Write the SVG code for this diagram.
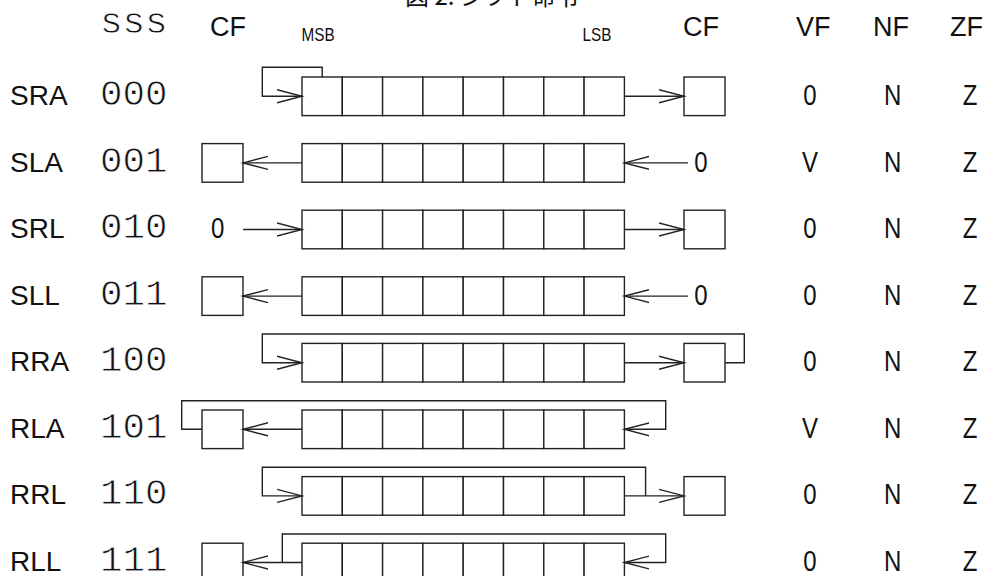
<svg xmlns="http://www.w3.org/2000/svg" xmlns:xlink="http://www.w3.org/1999/xlink" width="989" height="576" viewBox="0 0 989 576">
<style>
.box{fill:#fff;stroke:#222;stroke-width:1.4}
.ln{fill:none;stroke:#222;stroke-width:1.4}
.lbl{font-family:"Liberation Sans",Arial,sans-serif;font-size:28px;fill:#111}
.code{font-family:"Liberation Mono","Courier New",monospace;font-size:37.5px;fill:#111;stroke:#fff;stroke-width:0.8px}
.hdr{font-family:"Liberation Sans",Arial,sans-serif;font-size:27px;fill:#111}
.nar{font-family:"Liberation Sans",Arial,sans-serif;fill:#111}
.flag{font-size:30px;text-anchor:middle}
.title{font-family:"Noto Sans CJK JP",sans-serif;font-size:24px;fill:#111}
</style>
<defs>
<marker id="arr" markerUnits="userSpaceOnUse" viewBox="0 0 30 16" markerWidth="30" markerHeight="16" refX="25" refY="8" orient="auto">
<path d="M0 1.5 L25 8 L0 14.5" fill="none" stroke="#222" stroke-width="1.4"/>
</marker>
<g id="reg">
<rect class="box" x="0" y="0" width="40.3" height="38.6"/>
<rect class="box" x="40.3" y="0" width="40.3" height="38.6"/>
<rect class="box" x="80.6" y="0" width="40.3" height="38.6"/>
<rect class="box" x="120.9" y="0" width="40.3" height="38.6"/>
<rect class="box" x="161.2" y="0" width="40.3" height="38.6"/>
<rect class="box" x="201.5" y="0" width="40.3" height="38.6"/>
<rect class="box" x="241.8" y="0" width="40.3" height="38.6"/>
<rect class="box" x="282.1" y="0" width="40.3" height="38.6"/>
</g>
<rect id="cf" class="box" x="0" y="0" width="41" height="38.6"/>
</defs>
<rect width="989" height="576" fill="#fff"/>

<g id="title">
<text class="title" x="405" y="5">図 2. シフト命令</text>
</g>

<g id="header">
<text class="code" x="100" y="33.3">sss</text>
<text class="hdr" x="210" y="36">CF</text>
<text class="nar" font-size="18" transform="translate(301.5,40.7) scale(0.85,1)">MSB</text>
<text class="nar" font-size="18" transform="translate(582.5,40.7) scale(0.85,1)">LSB</text>
<text class="hdr" x="683" y="36">CF</text>
<text class="hdr" x="796" y="36">VF</text>
<text class="hdr" x="873" y="36">NF</text>
<text class="hdr" x="950" y="36">ZF</text>
</g>

<g id="row-sra">
<text class="lbl" x="10" y="104.5">SRA</text>
<text class="code" x="100" y="104.5">000</text>
<use xlink:href="#reg" x="302" y="77"/>
<use xlink:href="#cf" x="684" y="77"/>
<text class="nar flag" transform="translate(810,104.5) scale(0.8,1)">0</text>
<text class="nar flag" transform="translate(892.7,104.5) scale(0.8,1)">N</text>
<text class="nar flag" transform="translate(970,104.5) scale(0.8,1)">Z</text>
</g>

<g id="row-sla">
<text class="lbl" x="10" y="171.5">SLA</text>
<text class="code" x="100" y="171.5">001</text>
<use xlink:href="#cf" x="202" y="143.6"/>
<use xlink:href="#reg" x="302" y="143.6"/>
<text class="nar flag" transform="translate(701,171.5) scale(0.8,1)">0</text>
<text class="nar flag" transform="translate(810,171.5) scale(0.8,1)">V</text>
<text class="nar flag" transform="translate(892.7,171.5) scale(0.8,1)">N</text>
<text class="nar flag" transform="translate(970,171.5) scale(0.8,1)">Z</text>
</g>

<g id="row-srl">
<text class="lbl" x="10" y="238">SRL</text>
<text class="code" x="100" y="238">010</text>
<text class="nar flag" transform="translate(217.6,238) scale(0.8,1)">0</text>
<use xlink:href="#reg" x="302" y="210.2"/>
<use xlink:href="#cf" x="684" y="210.2"/>
<text class="nar flag" transform="translate(810,238) scale(0.8,1)">0</text>
<text class="nar flag" transform="translate(892.7,238) scale(0.8,1)">N</text>
<text class="nar flag" transform="translate(970,238) scale(0.8,1)">Z</text>
</g>

<g id="row-sll">
<text class="lbl" x="10" y="304.6">SLL</text>
<text class="code" x="100" y="304.6">011</text>
<use xlink:href="#cf" x="202" y="276.8"/>
<use xlink:href="#reg" x="302" y="276.8"/>
<text class="nar flag" transform="translate(701,304.6) scale(0.8,1)">0</text>
<text class="nar flag" transform="translate(810,304.6) scale(0.8,1)">0</text>
<text class="nar flag" transform="translate(892.7,304.6) scale(0.8,1)">N</text>
<text class="nar flag" transform="translate(970,304.6) scale(0.8,1)">Z</text>
</g>

<g id="row-rra">
<text class="lbl" x="10" y="371.2">RRA</text>
<text class="code" x="100" y="371.2">100</text>
<use xlink:href="#reg" x="302" y="343.4"/>
<use xlink:href="#cf" x="684" y="343.4"/>
<text class="nar flag" transform="translate(810,371.2) scale(0.8,1)">0</text>
<text class="nar flag" transform="translate(892.7,371.2) scale(0.8,1)">N</text>
<text class="nar flag" transform="translate(970,371.2) scale(0.8,1)">Z</text>
</g>

<g id="row-rla">
<text class="lbl" x="10" y="437.8">RLA</text>
<text class="code" x="100" y="437.8">101</text>
<use xlink:href="#cf" x="202" y="410"/>
<use xlink:href="#reg" x="302" y="410"/>
<text class="nar flag" transform="translate(810,437.8) scale(0.8,1)">V</text>
<text class="nar flag" transform="translate(892.7,437.8) scale(0.8,1)">N</text>
<text class="nar flag" transform="translate(970,437.8) scale(0.8,1)">Z</text>
</g>

<g id="row-rrl">
<text class="lbl" x="10" y="504.4">RRL</text>
<text class="code" x="100" y="504.4">110</text>
<use xlink:href="#reg" x="302" y="476.6"/>
<use xlink:href="#cf" x="684" y="476.6"/>
<text class="nar flag" transform="translate(810,504.4) scale(0.8,1)">0</text>
<text class="nar flag" transform="translate(892.7,504.4) scale(0.8,1)">N</text>
<text class="nar flag" transform="translate(970,504.4) scale(0.8,1)">Z</text>
</g>

<g id="row-rll">
<text class="lbl" x="10" y="570.5">RLL</text>
<text class="code" x="100" y="570.5">111</text>
<use xlink:href="#cf" x="202" y="543.2"/>
<use xlink:href="#reg" x="302" y="543.2"/>
<text class="nar flag" transform="translate(810,570.5) scale(0.8,1)">0</text>
<text class="nar flag" transform="translate(892.7,570.5) scale(0.8,1)">N</text>
<text class="nar flag" transform="translate(970,570.5) scale(0.8,1)">Z</text>
</g>

<g id="connectors">
<path class="ln" d="M322.2 77 V67.3 H262.3 V96.3 H302" marker-end="url(#arr)"/>
<path class="ln" d="M624.4 96.3 H684" marker-end="url(#arr)"/>
<path class="ln" d="M302 162.9 H243" marker-end="url(#arr)"/>
<path class="ln" d="M688 162.9 H624.4" marker-end="url(#arr)"/>
<path class="ln" d="M243 229.5 H302" marker-end="url(#arr)"/>
<path class="ln" d="M624.4 229.5 H684" marker-end="url(#arr)"/>
<path class="ln" d="M302 296.1 H243" marker-end="url(#arr)"/>
<path class="ln" d="M688 296.1 H624.4" marker-end="url(#arr)"/>
<path class="ln" d="M725 362.7 H744.3 V334 H262.3 V362.7 H302" marker-end="url(#arr)"/>
<path class="ln" d="M624.4 362.7 H684" marker-end="url(#arr)"/>
<path class="ln" d="M202 429.3 H181.7 V400.7 H665.7 V429.3 H624.4" marker-end="url(#arr)"/>
<path class="ln" d="M302 429.3 H243" marker-end="url(#arr)"/>
<path class="ln" d="M645.6 495.9 V467.3 H262.3 V495.9 H302" marker-end="url(#arr)"/>
<path class="ln" d="M624.4 495.9 H684" marker-end="url(#arr)"/>
<path class="ln" d="M282.3 562.5 V534 H665.7 V562.5 H624.4" marker-end="url(#arr)"/>
<path class="ln" d="M302 562.5 H243" marker-end="url(#arr)"/>
</g>
</svg>
